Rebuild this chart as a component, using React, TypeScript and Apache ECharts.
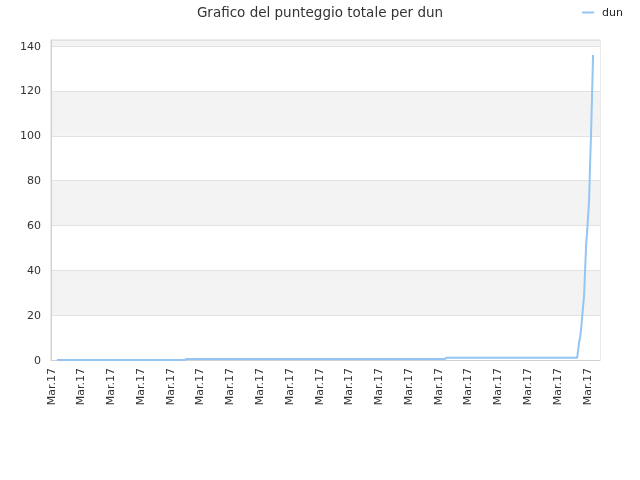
import React, { useRef, useEffect } from "react";
import * as echarts from "echarts";

// x position in samples, y total score
const sampleIndex = [
  6, 135, 136, 397, 398, 530, 531, 532, 533, 534, 535, 536, 537, 538, 539,
  540, 541, 542, 543, 544, 545, 546,
];
const score = [
  0, 0, 0.5, 0.5, 1, 1, 4.5, 8, 10, 14, 19, 24, 29, 40, 51, 57, 64, 71, 87,
  101, 118, 136,
];
const tickLabels = [
  "Mar.17", "Mar.17", "Mar.17", "Mar.17", "Mar.17", "Mar.17", "Mar.17",
  "Mar.17", "Mar.17", "Mar.17", "Mar.17", "Mar.17", "Mar.17", "Mar.17",
  "Mar.17", "Mar.17", "Mar.17", "Mar.17", "Mar.17",
];
const tickStep = 30;
const seriesName = "dun";

const App = function () {
  const chart = useRef<HTMLDivElement>(null);
  useEffect(() => {
    if (!chart.current) return;
    const myChart = echarts.init(chart.current, undefined, { renderer: "svg" });
    const font = "DejaVu Sans";
    const option = {
      animation: false,
      textStyle: { fontFamily: font },
      title: {
        text: "Grafico del punteggio totale per dun",
        left: "center",
        top: 0,
        textStyle: { fontSize: 13.5, fontWeight: "normal", color: "#333", fontFamily: font },
      },
      legend: {
        right: 12,
        top: 2,
        icon: "rect",
        itemWidth: 12,
        itemHeight: 2,
        textStyle: { fontSize: 11, color: "#222", fontFamily: font, padding: [0, 0, 0, 3] },
        data: [seriesName],
      },
      grid: {
        left: 51,
        right: 40,
        top: 40,
        bottom: 120,
        show: true,
        borderColor: "#d8d8d8",
        borderWidth: 1,
      },
      xAxis: {
        type: "value",
        min: 0,
        max: 553,
        interval: tickStep,
        axisLine: { show: true, lineStyle: { color: "#d0d0d0" } },
        axisTick: { show: false },
        splitLine: { show: false },
        axisLabel: {
          rotate: 90,
          fontSize: 11,
          color: "#333",
          margin: 8,
          showMaxLabel: false,
          formatter: (v: number) => tickLabels[Math.round(v / tickStep)] ?? "",
        },
      },
      yAxis: {
        type: "value",
        min: 0,
        max: 142.7,
        interval: 20,
        axisLine: { show: true, lineStyle: { color: "#d0d0d0" } },
        axisTick: { show: false },
        axisLabel: { fontSize: 11, color: "#333", margin: 10, showMaxLabel: false },
        splitLine: { show: true, lineStyle: { color: "#e2e2e2" } },
        splitArea: { show: true, areaStyle: { color: ["#ffffff", "#f3f3f3"] } },
      },
      series: [
        {
          name: seriesName,
          type: "line",
          data: sampleIndex.map((x, i) => [x, score[i]]),
          showSymbol: false,
          symbol: "none",
          lineStyle: { color: "#94c5f5", width: 2 },
          itemStyle: { color: "#94c5f5" },
        },
      ],
    };
    myChart.setOption(option);
    return () => {
      myChart.dispose();
    };
  }, []);
  return (
    <div
      ref={chart}
      style={{ position: "fixed", left: 0, top: 0, width: 640, height: 480 }}
    ></div>
  );
};
export default App;
